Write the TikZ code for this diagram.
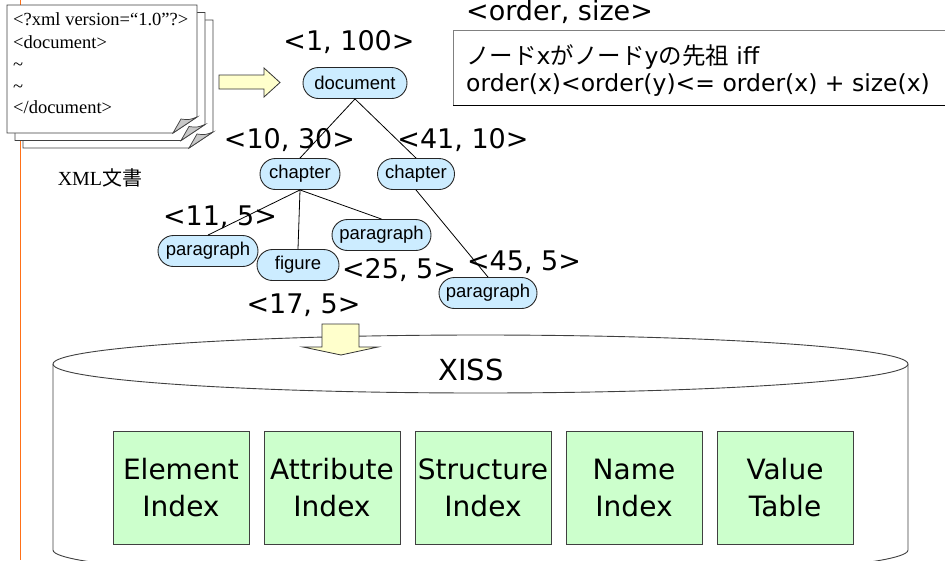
\documentclass[tikz,border=0pt]{standalone}
\usepackage{fontspec}
\setmainfont{Liberation Serif}
\newfontfamily\labfont{DejaVu Sans}
\newfontfamily\arialfont{Liberation Sans}
\newfontfamily\jpfont{Noto Sans CJK JP}

\definecolor{treeblue}{HTML}{CCECFF}
\definecolor{arrowyellow}{HTML}{FFFFCC}
\definecolor{idxgreen}{HTML}{CCFFCC}
\definecolor{railorange}{RGB}{255,112,24}
\definecolor{foldgray}{HTML}{C8C8C8}

\tikzset{
  treenode/.style={draw=black!85, fill=treeblue, rounded corners=15.5pt,
    minimum height=31pt, inner sep=0pt, line width=0.9pt,
    font=\arialfont\fontsize{18.5}{20}\selectfont},
  lbl/.style={anchor=base, inner sep=0pt, font=\labfont\fontsize{27}{30}\selectfont},
  idxbox/.style={draw=black!75, fill=idxgreen, minimum width=136pt,
    minimum height=113pt, inner sep=0pt, align=center, line width=0.9pt,
    font=\labfont\fontsize{28}{37}\selectfont},
  blockarrow/.style={draw=black!80, fill=arrowyellow, line width=0.8pt},
  treeline/.style={draw=black, line width=0.8pt},
  pagesheet/.style={draw=black!75, fill=white, line width=0.9pt},
  pagefold/.style={draw=black!75, fill=foldgray, line width=0.7pt},
  doctext/.style={anchor=base west, inner sep=0pt, font=\fontsize{18.5}{22}\selectfont},
  condtext/.style={anchor=base west, inner sep=0pt, font=\labfont\fontsize{23.5}{26}\selectfont},
}

\begin{document}
\begin{tikzpicture}[x=1pt,y=-1pt]
\useasboundingbox (0,0) rectangle (945,560);

% orange rail on the left
\draw[railorange, line width=1.6pt] (20.5,0) -- (20.5,560);

% stack of XML pages, back to front
\foreach \dx/\dy in {16/15, 8/7.5, 0/0} {
  \path[pagesheet] ({7+\dx},{5+\dy}) -- ({197+\dx},{5+\dy}) -- ({197+\dx},{117+\dy})
    -- ({173+\dx},{133+\dy}) -- ({7+\dx},{133+\dy}) -- cycle;
  \path[pagefold] ({173+\dx},{133+\dy}) .. controls ({177+\dx},{126+\dy}) .. ({181+\dx},{119+\dy})
    .. controls ({189+\dx},{120+\dy}) .. ({197+\dx},{117+\dy}) -- cycle;
}
\node[doctext] (l1) at (13,25) {<?xml version=“1.0”?>};
\node[doctext] (l2) at (13,48) {<document>};
\node[doctext] (l3) at (13,70) {\textasciitilde};
\node[doctext] (l4) at (13,92) {\textasciitilde};
\node[doctext] (l5) at (13,113) {</document>};
\node[inner sep=0pt, font=\fontsize{20}{22}\selectfont] (xmldoc) at (100,178) {XML{\jpfont 文書}};

% block arrow from the document to its tree
\path[blockarrow] (219,75) -- (264,75) -- (264,68) -- (280,82.5) -- (264,97) -- (264,89) -- (219,89) -- cycle;

% ancestor condition
\node[lbl, anchor=base west] (ordsize) at (466,20) {<order, size>};
\draw[black!50, line width=0.9pt] (950,30) -- (453,30) -- (453,105);
\draw[black, line width=0.9pt] (453,105) -- (950,105);
\node[condtext] (cond1) at (466,64) {{\jpfont ノード}x{\jpfont がノード}y{\jpfont の先祖} iff};
\node[condtext] (cond2) at (466,91) {order(x)<order(y)<= order(x) + size(x)};

% cylinder of the store
\path[draw=black!75, fill=white, line width=0.9pt]
  (53,364) -- (53,550) arc[start angle=180, end angle=360, x radius=427.5, y radius=-29]
  -- (908,364);
\draw[black!75, fill=white, line width=0.9pt] (480.5,364) ellipse[x radius=427.5, y radius=29];
\node[inner sep=0pt, anchor=base, font=\labfont\fontsize{29}{32}\selectfont] (xiss) at (471,380) {XISS};

% block arrow into the store
\path[blockarrow] (322,324) -- (359,324) -- (359,347) -- (378,347) -- (341,355) -- (303,347) -- (322,347) -- cycle;

% tree nodes
\node[treenode, minimum width=104pt] (doc) at (355,83) {document};
\node[treenode, minimum width=80pt] (ch1) at (300,174) {chapter};
\node[treenode, minimum width=77pt] (ch2) at (416,174) {chapter};
\node[treenode, minimum width=100pt] (p1) at (208,251) {paragraph};
\node[treenode, minimum width=82pt] (fig) at (298,265) {figure};
\node[treenode, minimum width=99pt] (p2) at (381.5,235) {paragraph};
\node[treenode, minimum width=98pt] (p3) at (488,293) {paragraph};

\draw[treeline] (doc.south) -- (ch1.north);
\draw[treeline] (doc.south) -- (ch2.north);
\draw[treeline] (ch1.south) -- (p1.north);
\draw[treeline] (ch1.south) -- (fig.north);
\draw[treeline] (ch1.south) -- (p2.north);
\draw[treeline] (ch2.south) -- (p3.north);

% order/size labels
\node[lbl] (o1) at (349,50) {<1, 100>};
\node[lbl] (o10) at (289.5,148) {<10, 30>};
\node[lbl] (o41) at (463,148) {<41, 10>};
\node[lbl] (o11) at (220,225) {<11, 5>};
\node[lbl] (o25) at (399,278) {<25, 5>};
\node[lbl] (o45) at (524,270) {<45, 5>};
\node[lbl] (o17) at (303.5,313) {<17, 5>};

% index structures
\node[idxbox] (elem) at (181,487.5) {Element\\Index};
\node[idxbox] (attr) at (332,487.5) {Attribute\\Index};
\node[idxbox] (strc) at (483,487.5) {Structure\\Index};
\node[idxbox] (name) at (634,487.5) {Name\\Index};
\node[idxbox] (vtab) at (785,487.5) {Value\\Table};
\end{tikzpicture}
\end{document}
